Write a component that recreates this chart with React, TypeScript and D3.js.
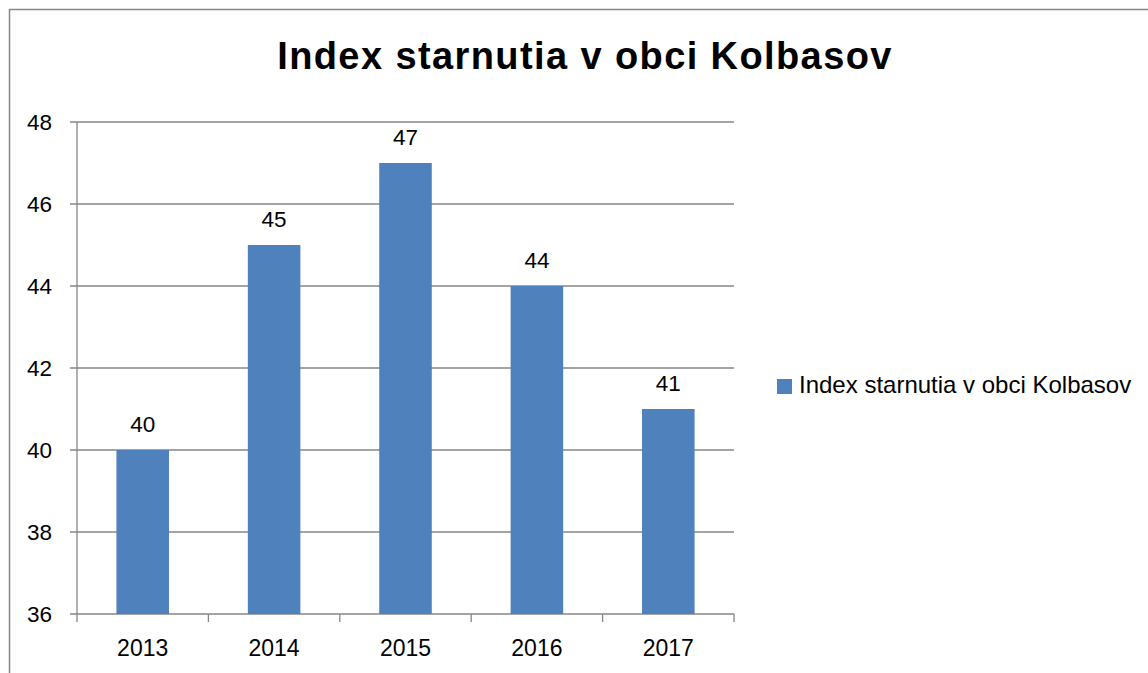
import React from "react";
import * as d3 from "d3";

const title = "Index starnutia v obci Kolbasov";
const seriesName = "Index starnutia v obci Kolbasov";
const years = ["2013", "2014", "2015", "2016", "2017"];
const values = [40, 45, 47, 44, 41];
const yTicks = [36, 38, 40, 42, 44, 46, 48];

const W = 1148;
const H = 673;
const left = 77;
const right = 734;
const top = 122;
const bottom = 614;
const barColor = "#4F81BD";
const gridColor = "#868686";
const font = "'Liberation Sans', Arial, sans-serif";

export default function App() {
  const x = d3.scaleBand<string>().domain(years).range([left, right]).paddingInner(0.6).paddingOuter(0.3);
  const xCat = d3.scaleBand<string>().domain(years).range([left, right]).padding(0);
  const y = d3.scaleLinear().domain([36, 48]).range([bottom, top]);

  return (
    <div style={{ position: "fixed", left: 0, top: 0, width: W, height: H, background: "#fff" }}>
      <svg width={W} height={H} style={{ display: "block" }}>
        <rect x={9.5} y={9.5} width={1300} height={1000} fill="#fff" stroke={gridColor} strokeWidth={1.5} />
        <text x={585} y={69} textAnchor="middle" fontFamily={font} fontWeight="bold" fontSize={38} letterSpacing={1.4} fill="#000">
          {title}
        </text>
        {yTicks.map((t) => (
          <g key={t}>
            <line x1={left - 7} x2={right} y1={y(t)} y2={y(t)} stroke={gridColor} strokeWidth={1.3} />
            <text x={52} y={y(t) + 8} textAnchor="end" fontFamily={font} fontSize={22.5} fill="#000">
              {t}
            </text>
          </g>
        ))}
        <line x1={left} x2={left} y1={top} y2={bottom + 8} stroke={gridColor} strokeWidth={1.3} />
        {years.map((yr) => (
          <line key={"t" + yr} x1={(xCat(yr) as number) + xCat.bandwidth()} x2={(xCat(yr) as number) + xCat.bandwidth()} y1={bottom} y2={bottom + 8} stroke={gridColor} strokeWidth={1.3} />
        ))}
        {years.map((yr, i) => (
          <g key={yr}>
            <rect x={x(yr)} y={y(values[i])} width={x.bandwidth()} height={bottom - y(values[i])} fill={barColor} />
            <text x={(x(yr) as number) + x.bandwidth() / 2} y={y(values[i]) - 18} textAnchor="middle" fontFamily={font} fontSize={22.5} fill="#000">
              {values[i]}
            </text>
            <text x={(xCat(yr) as number) + xCat.bandwidth() / 2} y={656} textAnchor="middle" fontFamily={font} fontSize={23} fill="#000">
              {yr}
            </text>
          </g>
        ))}
        <rect x={777} y={379} width={15} height={15} fill={barColor} />
        <text x={799} y={393} fontFamily={font} fontSize={24} fill="#000">
          {seriesName}
        </text>
      </svg>
    </div>
  );
}
